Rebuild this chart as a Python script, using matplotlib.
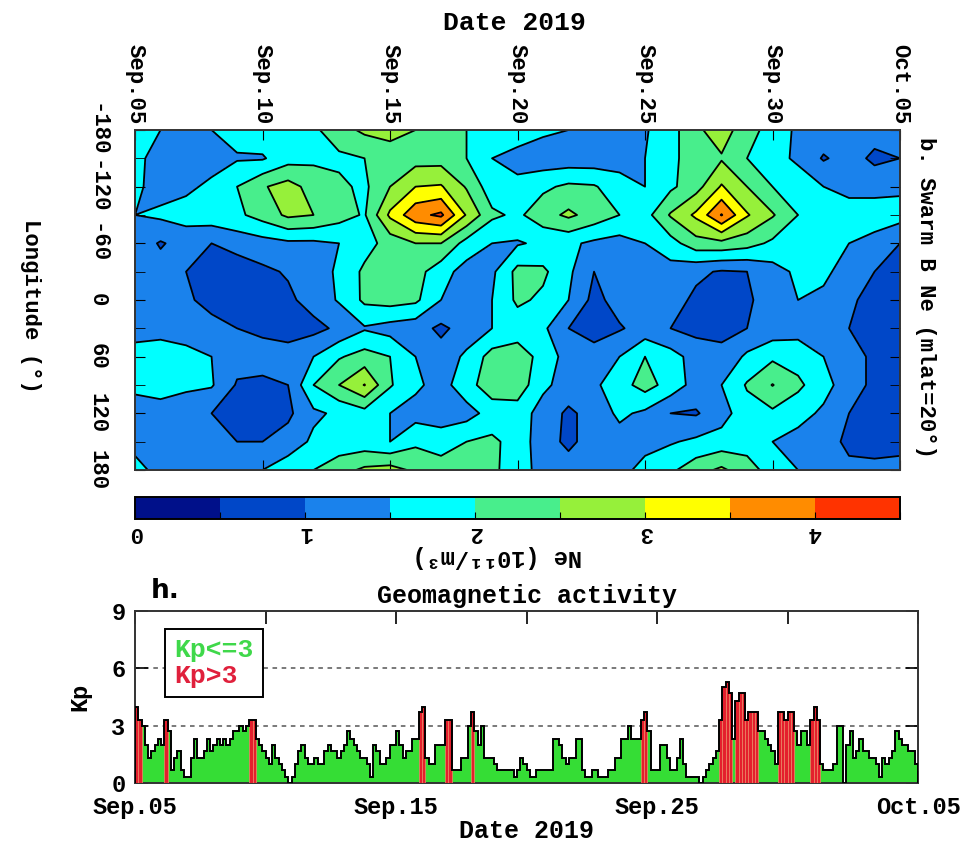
import numpy as np
import matplotlib
matplotlib.use("Agg")
import matplotlib.pyplot as plt
from matplotlib.colors import ListedColormap, BoundaryNorm
from matplotlib.patches import Patch

plt.rcParams['font.family'] = ['Liberation Mono', 'DejaVu Sans']
plt.rcParams['font.weight'] = 'bold'
plt.rcParams['axes.labelweight'] = 'bold'
plt.rcParams['axes.titleweight'] = 'bold'

# --- Swarm B electron density, daily x 30 deg longitude bins ---
date_ticks = [0, 5, 10, 15, 20, 25, 30]
date_labels = ['Sep.05', 'Sep.10', 'Sep.15', 'Sep.20', 'Sep.25', 'Sep.30', 'Oct.05']
lon_ticks = [-180, -120, -60, 0, 60, 120, 180]

ne_days = np.arange(31)              # day 0 = Sep 5
ne_lons = np.arange(-180, 181, 30)

ne_m180 = [1.7, 1.5, 1.5, 1.5, 1.7, 1.8, 1.8, 1.9, 2.3, 2.6, 2.7, 2.5, 2.2, 2.0, 1.9, 1.8, 1.6, 1.5, 1.3, 1.3, 1.45, 1.8, 2.4, 2.75, 2.2, 1.8, 1.4, 1.3, 1.3, 1.2, 1.2]
ne_m150 = [1.7, 1.2, 1.2, 1.3, 1.45, 1.45, 1.8, 1.9, 1.9, 2.0, 2.2, 2.3, 2.3, 2.0, 1.5, 1.3, 1.2, 1.2, 1.2, 1.3, 1.5, 1.9, 2.2, 2.45, 2.0, 1.7, 1.4, 0.95, 1.2, 0.9, 1.0]
ne_m120 = [1.6, 1.3, 1.4, 1.6, 2.0, 2.45, 2.7, 2.3, 2.1, 1.9, 2.5, 3.0, 3.05, 2.45, 1.7, 1.65, 1.9, 2.1, 2.05, 1.7, 1.5, 1.9, 2.3, 3.05, 2.5, 2.0, 1.8, 1.5, 1.3, 1.3, 1.4]
ne_m90 = [1.5, 1.6, 1.7, 1.8, 1.9, 2.2, 2.6, 2.5, 2.2, 1.95, 3.1, 3.85, 4.1, 2.95, 2.1, 1.9, 2.3, 2.6, 2.3, 2.0, 1.8, 2.55, 3.1, 4.03, 3.05, 2.55, 2.0, 1.7, 1.8, 1.8, 1.7]
ne_m60 = [1.3, 0.95, 1.2, 1.0, 1.2, 1.3, 1.4, 1.4, 1.5, 1.8, 2.2, 2.5, 2.5, 1.8, 1.5, 1.45, 1.6, 1.6, 1.4, 1.3, 1.5, 1.8, 2.3, 2.35, 2.2, 1.9, 1.7, 1.7, 1.5, 1.3, 1.0]
ne_m30 = [1.3, 1.2, 1.0, 0.8, 0.7, 0.9, 1.05, 1.2, 1.6, 2.1, 2.3, 2.2, 1.7, 1.3, 1.4, 2.15, 2.1, 1.6, 1.0, 1.3, 1.3, 1.3, 1.1, 0.95, 1.0, 1.3, 1.6, 1.6, 1.3, 1.0, 0.8]
ne_0 = [1.3, 1.2, 1.1, 0.8, 0.7, 0.7, 0.9, 1.2, 1.55, 2.1, 2.2, 2.1, 1.5, 1.2, 1.5, 2.1, 1.9, 1.5, 0.85, 1.2, 1.3, 1.2, 0.9, 0.75, 0.9, 1.3, 1.5, 1.4, 1.1, 0.8, 0.7]
ne_p30 = [1.3, 1.3, 1.2, 1.2, 1.0, 0.9, 0.8, 0.85, 1.1, 1.45, 1.3, 1.2, 0.9, 1.2, 1.5, 1.7, 1.6, 1.0, 0.8, 0.95, 1.2, 1.0, 0.85, 0.9, 1.0, 1.2, 1.3, 1.2, 1.0, 0.8, 0.7]
ne_p60 = [1.7, 1.8, 1.7, 1.5, 1.2, 1.2, 1.2, 1.5, 1.95, 2.2, 2.0, 1.5, 1.2, 1.6, 2.2, 2.3, 1.8, 1.3, 1.2, 1.5, 2.0, 1.7, 1.3, 1.1, 1.6, 1.9, 1.8, 1.5, 1.2, 0.9, 0.8]
ne_p90 = [1.6, 1.7, 1.6, 1.55, 0.95, 0.9, 1.0, 2.0, 2.5, 3.02, 2.05, 1.6, 1.3, 1.8, 2.3, 2.3, 1.6, 1.3, 1.4, 1.8, 2.2, 1.8, 1.3, 1.5, 2.05, 2.52, 2.1, 1.7, 1.2, 0.9, 0.8]
ne_p120 = [1.3, 1.3, 1.2, 1.0, 0.8, 0.8, 0.9, 1.4, 1.6, 1.8, 1.5, 1.3, 1.2, 1.3, 1.7, 1.75, 1.3, 0.9, 1.2, 1.6, 1.4, 1.0, 0.95, 1.3, 1.8, 1.9, 1.7, 1.4, 1.0, 0.8, 0.75]
ne_p150 = [1.4, 1.3, 1.2, 1.1, 1.0, 1.0, 1.2, 1.6, 1.7, 1.7, 1.5, 1.9, 1.8, 2.0, 2.1, 1.8, 1.2, 0.9, 1.2, 1.3, 1.4, 1.45, 1.6, 1.7, 1.8, 1.5, 1.3, 1.2, 0.9, 0.85, 0.9]
ne_p180 = [1.6, 1.4, 1.3, 1.4, 1.4, 1.5, 1.8, 2.0, 2.3, 2.6, 2.7, 2.4, 2.2, 2.3, 2.1, 1.75, 1.3, 1.2, 1.3, 1.4, 1.6, 1.9, 2.3, 2.6, 2.2, 1.8, 1.5, 1.3, 1.1, 1.1, 1.1]

ne = np.array([ne_m180, ne_m150, ne_m120, ne_m90, ne_m60, ne_m30, ne_0,
               ne_p30, ne_p60, ne_p90, ne_p120, ne_p150, ne_p180])

ne_levels = np.arange(0, 5.0, 0.5)
ne_colors = ['#00108a', '#0047c8', '#1a82ec', '#00ffff', '#48ee8c',
             '#96f03a', '#ffff00', '#ff8c00', '#ff3300']

# --- 3-hourly Kp, one row per day from Sep 5 to Oct 4 ---
kp_daily = [
    [4.0, 3.3, 3.0, 2.0, 1.3, 1.7, 2.0, 2.3],
    [2.0, 3.3, 2.7, 0.7, 1.3, 1.7, 0.7, 0.3],
    [0.3, 1.3, 2.3, 1.3, 1.3, 1.7, 2.3, 1.7],
    [2.0, 2.3, 2.0, 2.3, 2.0, 2.3, 2.7, 2.7],
    [3.0, 2.7, 3.0, 3.3, 3.3, 2.3, 2.0, 1.7],
    [1.3, 1.0, 2.0, 1.3, 1.0, 0.7, 0.3, 0.0],
    [0.3, 1.0, 1.7, 2.0, 1.3, 1.0, 1.0, 1.3],
    [1.0, 1.0, 1.7, 2.0, 1.7, 1.7, 1.3, 1.7],
    [2.0, 2.7, 2.3, 2.0, 1.7, 1.3, 1.3, 1.0],
    [0.3, 2.0, 1.7, 1.0, 1.0, 1.3, 2.0, 2.0],
    [2.7, 2.0, 1.3, 1.7, 1.7, 2.3, 2.3, 3.7],
    [4.0, 1.3, 1.0, 1.0, 2.0, 2.0, 2.0, 3.3],
    [3.3, 0.7, 0.7, 0.7, 1.3, 1.3, 3.0, 3.7],
    [2.7, 2.0, 3.0, 1.3, 1.3, 1.3, 1.0, 0.7],
    [0.7, 0.7, 0.7, 0.7, 0.3, 0.7, 1.3, 1.0],
    [0.7, 0.3, 0.3, 0.7, 0.7, 0.7, 0.7, 0.7],
    [2.3, 2.3, 2.0, 1.3, 1.0, 1.3, 1.3, 2.3],
    [2.3, 0.7, 0.3, 0.3, 0.7, 0.7, 0.3, 0.3],
    [0.3, 0.7, 0.7, 1.3, 1.3, 2.3, 2.3, 3.0],
    [2.3, 2.3, 2.3, 3.3, 3.7, 2.7, 0.7, 0.7],
    [0.7, 2.0, 2.0, 1.3, 0.7, 0.7, 1.3, 2.3],
    [1.0, 0.3, 0.3, 0.3, 0.3, 0.0, 0.3, 0.7],
    [1.0, 1.3, 1.7, 3.3, 5.0, 5.3, 4.7, 2.3],
    [4.3, 4.7, 4.7, 3.3, 3.7, 3.7, 3.7, 2.7],
    [2.7, 2.3, 2.0, 1.7, 1.0, 3.7, 3.7, 3.3],
    [3.7, 3.7, 2.7, 2.0, 2.7, 2.7, 2.0, 3.3],
    [4.0, 3.3, 1.0, 0.7, 0.7, 0.7, 1.0, 3.0],
    [3.0, 0.0, 2.0, 2.7, 1.3, 1.7, 2.3, 1.7],
    [1.7, 1.3, 1.3, 1.0, 0.3, 1.3, 1.0, 1.3],
    [1.7, 2.7, 2.3, 2.0, 2.0, 1.7, 1.7, 1.0],
]
kp_labels = ['Sep.05', '', 'Sep.15', '', 'Sep.25', '', 'Oct.05']

kp = np.array(kp_daily).ravel()
kp_edges = np.arange(len(kp) + 1) / 8.0

fig = plt.figure(figsize=(9.66, 8.49), dpi=100)

# ---------------- Ne map ----------------
ax = fig.add_axes([0.1398, 0.4464, 0.7919, 0.4005])
cmap = ListedColormap(ne_colors)
norm = BoundaryNorm(ne_levels, cmap.N)
cf = ax.contourf(ne_days, ne_lons, ne, levels=ne_levels, cmap=cmap, norm=norm)
ax.contour(ne_days, ne_lons, ne, levels=ne_levels, colors='k', linewidths=1.3)
ax.set_xlim(0, 30)
ax.set_ylim(180, -180)

ax.set_xticks(date_ticks)
ax.set_xticklabels(date_labels, rotation=-90, fontsize=16)
ax.tick_params(axis='x', top=True, bottom=True, labeltop=True, labelbottom=False,
               direction='in', length=7, pad=4)
ax.set_yticks(lon_ticks)
ax.set_yticks(np.arange(-180, 181, 30), minor=True)
ax.set_yticklabels([str(v) for v in lon_ticks], rotation=-90, va='center', fontsize=16)
ax.tick_params(axis='y', which='both', left=True, right=True, direction='in', length=7)
ax.tick_params(axis='y', which='major', pad=20)
for s in ax.spines.values():
    s.set_linewidth(1.4)
    s.set_color('#333333')

fig.text(0.533, 0.973, 'Date 2019', ha='center', va='center', fontsize=19)
fig.text(0.032, 0.64, 'Longitude (°)', rotation=-90, ha='center', va='center', fontsize=16)
fig.text(0.958, 0.65, 'b. Swarm B Ne (mlat=20°)', rotation=-90,
         ha='center', va='center', fontsize=16)

# colour bar
cax = fig.add_axes([0.1398, 0.3887, 0.7919, 0.0259])
cb = fig.colorbar(cf, cax=cax, orientation='horizontal')
cb.set_ticks(np.arange(0, 4.6, 0.5))
cb.set_ticklabels(['0', '', '1', '', '2', '', '3', '', '4', ''])
cax.tick_params(axis='x', direction='in', length=5, labelsize=16, labelrotation=180, pad=2)
cb.outline.set_linewidth(1.4)
fig.text(0.515, 0.344, 'Ne (10¹¹/m³)', rotation=180, ha='center', va='center', fontsize=17)

# ---------------- Kp ----------------
ax2 = fig.add_axes([0.1398, 0.0777, 0.8106, 0.2026])
for lev in (3, 6):
    ax2.axhline(lev, color='#555555', lw=1.1, ls=(0, (3, 3)), zorder=1)
ax2.stairs(kp, kp_edges, fill=True, color='#35dd35', zorder=2)
storm = kp > 3
ax2.bar(kp_edges[:-1][storm], kp[storm], width=1 / 8.0, align='edge',
        color='#e41f2d', edgecolor='#f08a6a', linewidth=0.5, zorder=3)
ax2.stairs(kp, kp_edges, color='k', lw=1.4, zorder=4)

ax2.set_xlim(0, 30)
ax2.set_ylim(0, 9)
ax2.set_yticks([0, 3, 6, 9])
ax2.set_xticks(date_ticks)
ax2.set_xticklabels(kp_labels)
ax2.tick_params(axis='both', direction='in', top=True, right=True, length=9,
                labelsize=17, width=1.2)
ax2.tick_params(axis='x', pad=9)
ax2.tick_params(axis='y', pad=7)
for s in ax2.spines.values():
    s.set_linewidth(1.4)
    s.set_color('#333333')
ax2.set_ylabel('Kp', fontsize=17, labelpad=14)
ax2.set_xlabel('Date 2019', fontsize=18, labelpad=0)
ax2.set_title('Geomagnetic activity', fontsize=18, pad=6)
ax2.text(0.02, 1.04, 'h.', transform=ax2.transAxes, fontsize=19,
         family='DejaVu Sans', weight='bold', va='bottom')

leg = ax2.legend(handles=[Patch(color='none', label='Kp<=3'),
                          Patch(color='none', label='Kp>3')],
                 labelcolor=['#3fd84a', '#e0203c'], loc='upper left',
                 bbox_to_anchor=(0.038, 0.895), borderaxespad=0,
                 handlelength=0, handletextpad=0,
                 fontsize=19, fancybox=False, framealpha=1, borderpad=0.35,
                 labelspacing=0.05)
leg.get_frame().set_edgecolor('k')
leg.get_frame().set_linewidth(1.4)

fig.savefig('out.png', dpi=100)
